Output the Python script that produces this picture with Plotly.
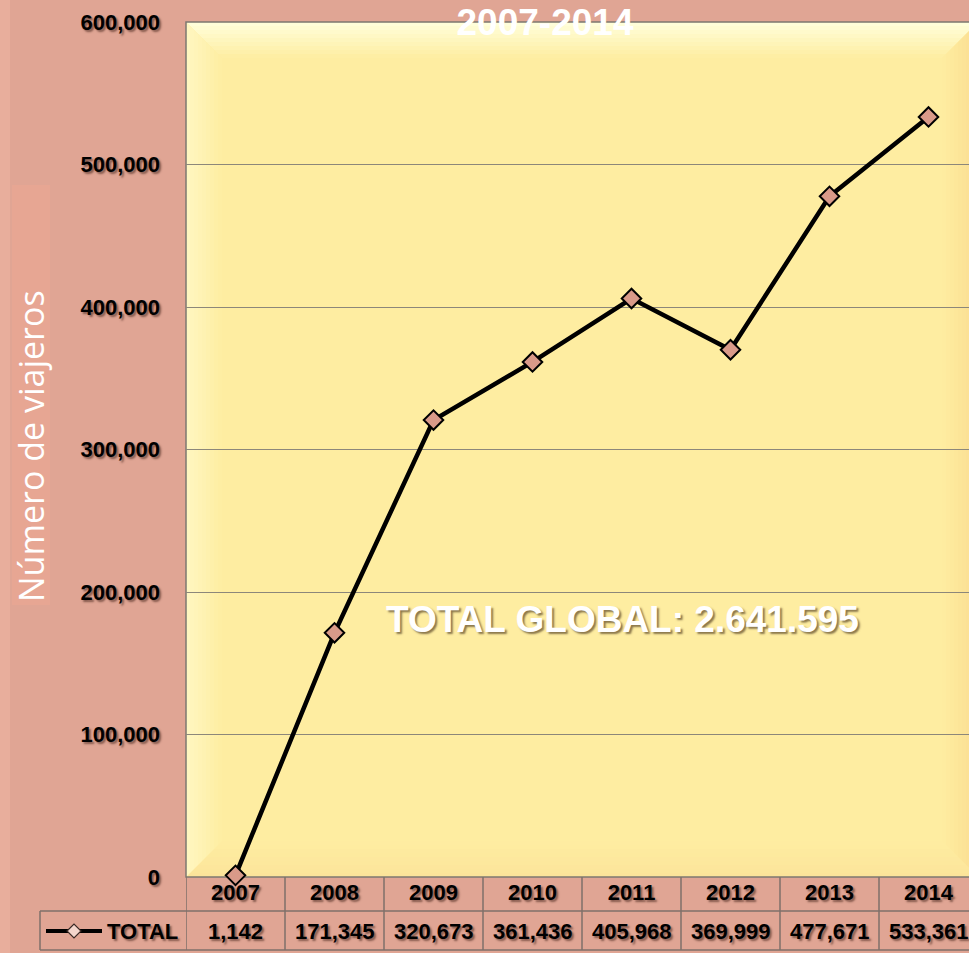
import plotly.graph_objects as go

years = ["2007", "2008", "2009", "2010", "2011", "2012", "2013", "2014"]
viajeros = [1142, 171345, 320673, 361436, 405968, 369999, 477671, 533361]
series_name = "TOTAL"
title_text = "2007-2014"
y_title = "Número de viajeros"
total_label = "TOTAL GLOBAL: 2.641.595"
y_ticks = [0, 100000, 200000, 300000, 400000, 500000, 600000]

BG = "#E0A594"
W, H = 969, 953
ML, MR, MT = 186, 0, 22
PLOT_BOTTOM = 877
MB = H - PLOT_BOTTOM
PW = W - ML - MR
PH = H - MT - MB
CAT_W = 99.0
X_END = -0.5 + PW / CAT_W
R_EDGE = (978 - ML) / PW  # virtual right edge of the plot frame (beyond the view)

def px_x(sx):
    return (sx - ML) / PW

def px_y(sy):
    return (PLOT_BOTTOM - sy) / PH

FONT = "Liberation Sans, Arial"
SHADOW_DARK = "2px 2px 2px rgba(60,30,20,0.55)"

fig = go.Figure()
fig.add_trace(go.Scatter(
    x=list(range(len(years))), y=viajeros, mode="lines+markers", name=series_name,
    line=dict(color="black", width=4.5),
    marker=dict(symbol="diamond", size=15, color="#D99A89",
                line=dict(color="black", width=2)),
    cliponaxis=False, showlegend=False,
))

def hex2rgb(h):
    h = h.lstrip("#")
    return [int(h[i:i + 2], 16) for i in (0, 2, 4)]

def mix(a, b, t):
    a, b = hex2rgb(a), hex2rgb(b)
    return "rgb(%d,%d,%d)" % tuple(round(a[i] + (b[i] - a[i]) * t) for i in range(3))

shapes = []
INTERIOR = "#FEEDA1"
R = R_EDGE
shapes.append(dict(type="rect", xref="paper", yref="paper", x0=0, x1=R, y0=0, y1=1,
                   fillcolor=INTERIOR, line=dict(width=0), layer="below"))
BEVEL = 36
N = 9
edge = {"top": "#FFFFDC", "left": "#FFF7C2", "right": "#FBDD90", "bottom": "#FCE49A"}
for k in range(N):
    i0 = k * BEVEL / N
    i1 = (k + 1) * BEVEL / N
    t = (k + 0.5) / N
    ax0, ax1 = i0 / PW, i1 / PW
    ay0, ay1 = i0 / PH, i1 / PH
    shapes.append(dict(type="path", xref="paper", yref="paper",
                       path=f"M {ax0} {1-ay0} L {R-ax0} {1-ay0} L {R-ax1} {1-ay1} L {ax1} {1-ay1} Z",
                       fillcolor=mix(edge["top"], INTERIOR, t), line=dict(width=0), layer="below"))
    shapes.append(dict(type="path", xref="paper", yref="paper",
                       path=f"M {ax0} {ay0} L {R-ax0} {ay0} L {R-ax1} {ay1} L {ax1} {ay1} Z",
                       fillcolor=mix(edge["bottom"], INTERIOR, t), line=dict(width=0), layer="below"))
    shapes.append(dict(type="path", xref="paper", yref="paper",
                       path=f"M {ax0} {ay0} L {ax0} {1-ay0} L {ax1} {1-ay1} L {ax1} {ay1} Z",
                       fillcolor=mix(edge["left"], INTERIOR, t), line=dict(width=0), layer="below"))
    shapes.append(dict(type="path", xref="paper", yref="paper",
                       path=f"M {R-ax0} {ay0} L {R-ax0} {1-ay0} L {R-ax1} {1-ay1} L {R-ax1} {ay1} Z",
                       fillcolor=mix(edge["right"], INTERIOR, t), line=dict(width=0), layer="below"))

# left edge lighter strip on paper
shapes.append(dict(type="rect", xref="paper", yref="paper", x0=px_x(0), x1=px_x(10),
                   y0=px_y(H + 20), y1=px_y(-20), fillcolor="#E8AE9C", line=dict(width=0), layer="below"))
# y-title box
shapes.append(dict(type="rect", xref="paper", yref="paper", x0=px_x(12), x1=px_x(50),
                   y0=px_y(605), y1=px_y(185), fillcolor="#E7A693", line=dict(width=0), layer="below"))

# plot border
shapes.append(dict(type="rect", xref="paper", yref="paper", x0=0, x1=R, y0=0, y1=1,
                   line=dict(color="#7E7870", width=1.5), fillcolor="rgba(0,0,0,0)", layer="below"))

# data table grid
TL = "#7F706A"
y_row1 = px_y(911)
y_row2 = px_y(950)
for i in range(len(years) + 1):
    shapes.append(dict(type="line", xref="x", yref="paper", x0=i - 0.5, x1=i - 0.5,
                       y0=0, y1=y_row2, line=dict(color=TL, width=1.5)))
for yy in (y_row1, y_row2):
    shapes.append(dict(type="line", xref="paper", yref="paper", x0=px_x(40), x1=R,
                       y0=yy, y1=yy, line=dict(color=TL, width=1.5)))
shapes.append(dict(type="line", xref="paper", yref="paper", x0=px_x(40), x1=px_x(40),
                   y0=y_row1, y1=y_row2, line=dict(color=TL, width=1.5)))
# legend key in table
yk = px_y(931)
shapes.append(dict(type="line", xref="paper", yref="paper", x0=px_x(46), x1=px_x(102),
                   y0=yk, y1=yk, line=dict(color="black", width=4)))
dx, dy = 7 / PW, 7 / PH
cx = px_x(74)
shapes.append(dict(type="path", xref="paper", yref="paper",
                   path=f"M {cx-dx} {yk} L {cx} {yk+dy} L {cx+dx} {yk} L {cx} {yk-dy} Z",
                   fillcolor="#F4D6CC", line=dict(color="#3A2A25", width=1.2)))

tfont = dict(family=FONT, size=22, color="black", weight="bold", shadow=SHADOW_DARK)
annotations = []
for i, v in enumerate(viajeros):
    annotations.append(dict(x=i, xref="x", y=px_y(931), yref="paper",
                            text=f"{v:,}", showarrow=False, xanchor="center", yanchor="middle",
                            font=tfont))
annotations.append(dict(x=px_x(105), xref="paper", y=px_y(931), yref="paper",
                        text=series_name, showarrow=False, xanchor="left", yanchor="middle",
                        font=tfont))
annotations.append(dict(x=px_x(31), xref="paper", y=px_y(446), yref="paper",
                        text=y_title, textangle=-90, showarrow=False,
                        xanchor="center", yanchor="middle",
                        font=dict(family="Open Sans, Noto Sans, sans-serif", size=34, color="white")))
annotations.append(dict(x=px_x(622), xref="paper", y=px_y(619), yref="paper",
                        text=total_label, showarrow=False, xanchor="center", yanchor="middle",
                        font=dict(family=FONT, size=37, color="white",
                                  weight="bold", shadow="2px 2px 2px rgba(90,70,40,0.7)")))

fig.update_layout(
    width=W, height=H,
    margin=dict(l=ML, r=MR, t=MT, b=MB, pad=0),
    paper_bgcolor=BG,
    plot_bgcolor="rgba(0,0,0,0)",
    title=dict(text=title_text, x=545 / W, xanchor="center", y=1 - 22 / H, yanchor="middle",
               yref="container",
               font=dict(family=FONT, size=37, color="white", weight="bold")),
    shapes=shapes,
    annotations=annotations,
    showlegend=False,
)
fig.update_xaxes(
    type="linear", range=[-0.5, X_END], showgrid=False, zeroline=False, showline=False,
    tickvals=list(range(len(years))), ticktext=years,
    ticks="", tickfont=tfont, ticklabelstandoff=0,
)
fig.update_yaxes(
    range=[0, 600000], tickvals=y_ticks, tickformat=",d",
    showgrid=True, gridcolor="#8C877A", gridwidth=1, zeroline=False,
    showline=False, ticks="", tickfont=tfont, ticklabelstandoff=25,
)

page_js = (
    "document.documentElement.style.margin='0';"
    "document.body.style.margin='0';"
    "document.body.style.overflow='hidden';"
    "document.body.style.background='" + BG + "';"
)
fig.write_html("out.html", post_script=page_js, config={"displayModeBar": False})
